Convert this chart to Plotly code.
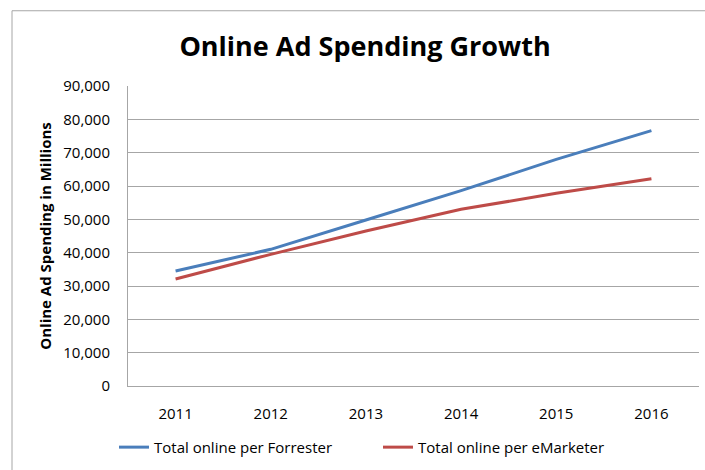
import plotly.graph_objects as go

# Online ad spending estimates, millions of dollars
years = ["2011", "2012", "2013", "2014", "2015", "2016"]
forrester = [34500, 41000, 49800, 58600, 68000, 76600]
emarketer = [32100, 39500, 46500, 53000, 57800, 62200]
y_ticks = [0, 10000, 20000, 30000, 40000, 50000, 60000, 70000, 80000, 90000]

FONT = "Open Sans"
GRID = "#a6a6a6"

fig = go.Figure()
fig.add_trace(go.Scatter(
    x=years, y=forrester, mode="lines", name="Total online per Forrester",
    line=dict(color="#4a7ebb", width=3),
))
fig.add_trace(go.Scatter(
    x=years, y=emarketer, mode="lines", name="Total online per eMarketer",
    line=dict(color="#be4b48", width=3),
))

L, R, T, B = 128, 6, 86, 81
W, H = 705, 470
pw, ph = W - L - R, H - T - B

def px_x(p):
    return (p - L) / pw

def px_y(p):
    return (H - B - p) / ph

fig.update_layout(
    width=W, height=H,
    margin=dict(l=L, r=R, t=T, b=B),
    paper_bgcolor="white", plot_bgcolor="white",
    font=dict(family=FONT, size=15, color="#000000"),
    title=dict(
        text="<b>Online Ad Spending Growth</b>",
        font=dict(family=FONT, size=27, color="#000000"),
        x=px_x(365), xref="paper", xanchor="center",
        y=1 - 47 / H, yanchor="middle",
    ),
    showlegend=True,
    legend=dict(
        orientation="h", x=px_x(114), xanchor="left",
        y=px_y(451), yanchor="middle",
        font=dict(family=FONT, size=15),
        entrywidth=219, entrywidthmode="pixels",
        itemwidth=30, tracegroupgap=0,
    ),
    xaxis=dict(
        type="category", range=[-0.5, 5.5],
        showgrid=False, showline=True, linecolor=GRID, linewidth=1,
        ticks="", ticklabelstandoff=14,
        tickfont=dict(family=FONT, size=15),
        zeroline=False,
    ),
    yaxis=dict(
        range=[0, 90000], tickvals=y_ticks,
        tickformat=",d",
        showgrid=True, gridcolor=GRID, gridwidth=1,
        showline=True, linecolor=GRID, linewidth=1,
        ticks="", ticklabelstandoff=14,
        tickfont=dict(family=FONT, size=15),
        zeroline=False,
        title=dict(
            text="<b>Online Ad Spending in Millions</b>",
            font=dict(family=FONT, size=15),
            standoff=7,
        ),
    ),
    shapes=[dict(
        type="rect", xref="paper", yref="paper",
        x0=px_x(12), x1=px_x(W + 20), y0=px_y(H + 20), y1=px_y(10),
        line=dict(color=GRID, width=1), fillcolor="rgba(0,0,0,0)",
        layer="below",
    )],
)

fig.write_html("out.html")
